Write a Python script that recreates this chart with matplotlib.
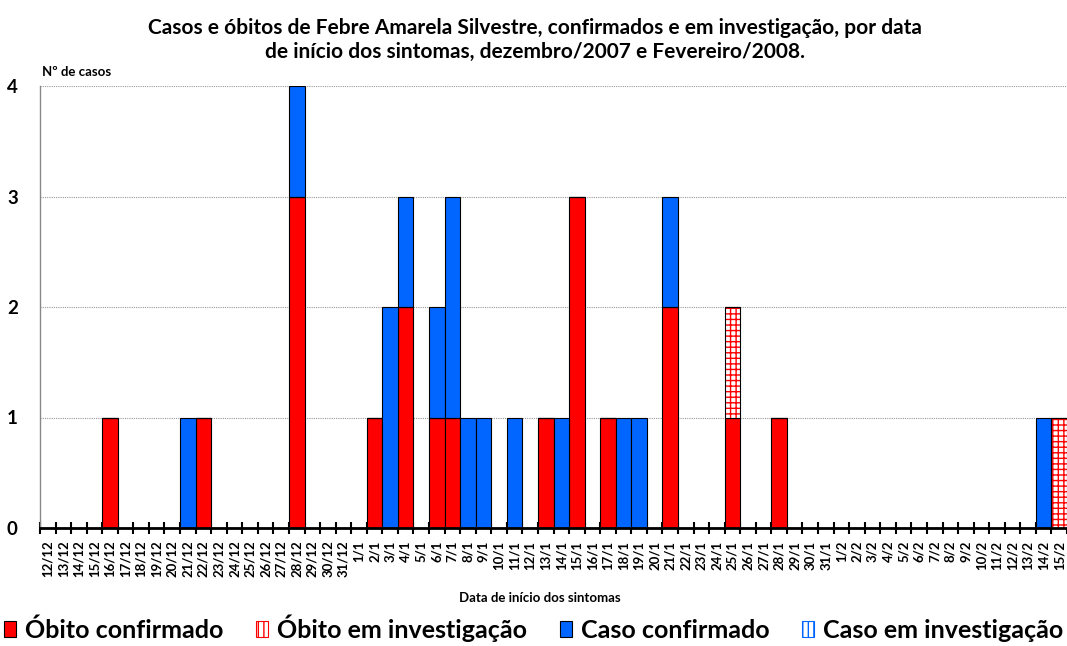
import numpy as np
import matplotlib
matplotlib.use("Agg")
import matplotlib.pyplot as plt
from matplotlib.patches import Patch

plt.rcParams['font.family'] = ['Lato', 'DejaVu Sans']

dates = [f"{d}/12" for d in range(12, 32)] + [f"{d}/1" for d in range(1, 32)] + [f"{d}/2" for d in range(1, 16)]
n = len(dates)

obito_conf_vals = {"16/12": 1, "22/12": 1, "28/12": 3, "2/1": 1, "4/1": 2, "6/1": 1, "7/1": 1,
                   "13/1": 1, "15/1": 3, "17/1": 1, "21/1": 2, "25/1": 1, "28/1": 1}
obito_inv_vals = {"25/1": 1, "15/2": 1}
caso_conf_vals = {"21/12": 1, "28/12": 1, "3/1": 2, "4/1": 1, "6/1": 1, "7/1": 2, "8/1": 1, "9/1": 1,
                  "11/1": 1, "14/1": 1, "18/1": 1, "19/1": 1, "21/1": 1, "14/2": 1}
caso_inv_vals = {}

obito_conf = np.array([obito_conf_vals.get(d, 0) for d in dates], float)
obito_inv = np.array([obito_inv_vals.get(d, 0) for d in dates], float)
caso_conf = np.array([caso_conf_vals.get(d, 0) for d in dates], float)
caso_inv = np.array([caso_inv_vals.get(d, 0) for d in dates], float)

RED = "#FF0000"
BLUE = "#0066FF"

fig = plt.figure(figsize=(10.67, 6.46), dpi=100)
ax = fig.add_axes([40/1067, 1-528/646, 1-40/1067, (528-86)/646])

x = np.arange(n)
w = 1.0
bottom = np.zeros(n)
# Óbito confirmado
ax.bar(x, obito_conf, w, bottom=bottom, color=RED, edgecolor="black", linewidth=0.8, zorder=3)
bottom += obito_conf
# Óbito em investigação (checkered)
ax.bar(x, obito_inv, w, bottom=bottom, color="white", edgecolor=RED, hatch="+++", linewidth=0, zorder=3)
ax.bar(x, obito_inv, w, bottom=bottom, color="none", edgecolor="black", linewidth=0.8, zorder=4)
bottom += obito_inv
# Caso confirmado
ax.bar(x, caso_conf, w, bottom=bottom, color=BLUE, edgecolor="black", linewidth=0.8, zorder=3)
bottom += caso_conf
# Caso em investigação
ax.bar(x, caso_inv, w, bottom=bottom, color="white", edgecolor=BLUE, hatch="|||", linewidth=0, zorder=3)
bottom += caso_inv

ax.set_xlim(-0.5, n - 0.5)
ax.set_ylim(0, 4)
ax.set_yticks([0, 1, 2, 3, 4])
ax.set_yticklabels(["0", "1", "2", "3", "4"], fontsize=13.5, fontweight="bold")
ax.yaxis.grid(True, linestyle=(0, (1, 1)), color="#999999", linewidth=0.8, zorder=0)
ax.tick_params(axis="y", length=0, pad=16)

ax.set_xticks(x)
ax.set_xticklabels(dates, rotation=90, fontsize=9.5, fontweight="bold")
ax.set_xticks(np.arange(n + 1) - 0.5, minor=True)
ax.tick_params(axis="x", which="major", length=0, pad=9)
ax.tick_params(axis="x", which="minor", length=9, width=1.5, direction="inout", color="black")

for s in ["top", "right"]:
    ax.spines[s].set_visible(False)
ax.spines["left"].set_color("#888888")
ax.spines["left"].set_linewidth(1)
ax.spines["bottom"].set_color("black")
ax.spines["bottom"].set_linewidth(2)
ax.spines["bottom"].set_zorder(5)

fig.text(42/1067, 1-72/646, "Nº de casos", fontsize=9.5, fontweight="bold", ha="left", va="center")
fig.text(540/1067, 1-598/646, "Data de início dos sintomas", fontsize=9.5, fontweight="bold", ha="center", va="center")
fig.text(535/1067, 1-40/646,
         "Casos e óbitos de Febre Amarela Silvestre, confirmados e em investigação, por data\nde início dos sintomas, dezembro/2007 e Fevereiro/2008.",
         fontsize=15, fontweight="bold", ha="center", va="center", linespacing=1.25)

handles = [
    Patch(facecolor=RED, edgecolor="black", linewidth=0.8),
    Patch(facecolor="white", edgecolor=RED, hatch="|||", linewidth=0.8),
    Patch(facecolor=BLUE, edgecolor="black", linewidth=0.8),
    Patch(facecolor="white", edgecolor=BLUE, hatch="|||", linewidth=0.8),
]
labels = ["Óbito confirmado", "Óbito em investigação", "Caso confirmado", "Caso em investigação"]
fig.legend(handles, labels, loc="center", bbox_to_anchor=(0.5, 1-628/646), ncol=4, frameon=False,
           prop={"size": 18, "weight": "bold"}, handlelength=0.5, handleheight=0.6,
           handletextpad=0.35, columnspacing=1.3, borderaxespad=0)

fig.savefig("out.png", dpi=100)
